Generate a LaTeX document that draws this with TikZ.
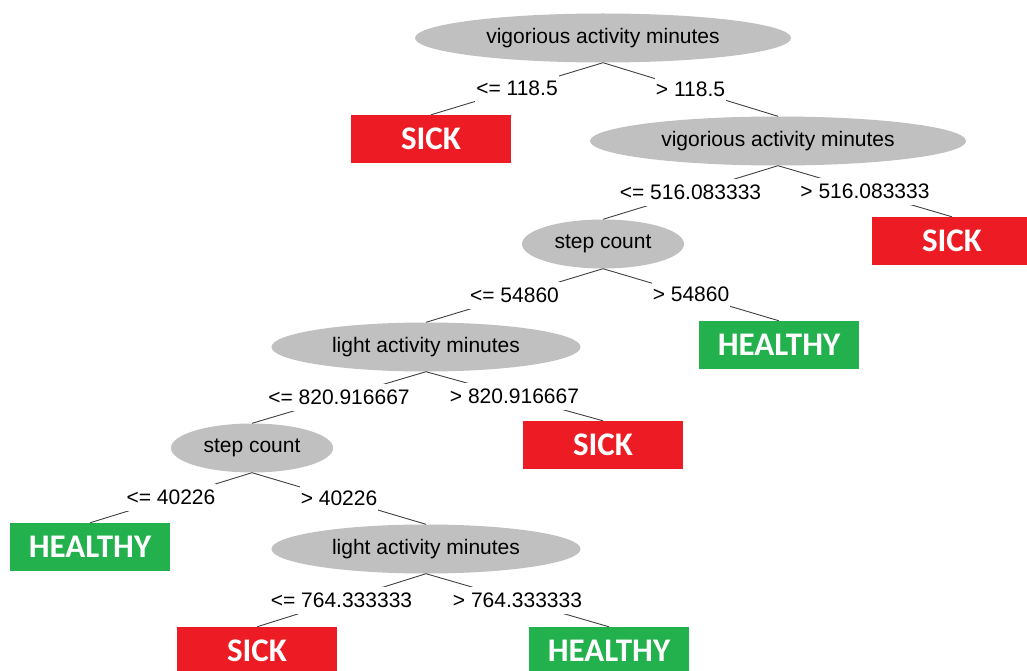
\documentclass[tikz,border=0pt]{standalone}
\usepackage{fontspec}
\setmainfont{Liberation Sans}
\newfontfamily\leaffont{Carlito}
\usetikzlibrary{shapes.geometric}
\definecolor{splitgray}{RGB}{192,192,192}
\definecolor{sickred}{RGB}{237,28,36}
\definecolor{healthygreen}{RGB}{34,177,76}

\begin{document}
\begin{tikzpicture}[x=1pt,y=-1pt,
        split/.style = {ellipse,
            fill=splitgray,
            inner sep=0pt,
            minimum height=49pt,
            font=\fontsize{21}{23}\selectfont
        },
        leaf/.style = {rectangle,
            minimum width=160pt,
            minimum height=48pt,
            inner sep=0pt,
            text=white,
            font=\leaffont\bfseries\fontsize{33}{35}\selectfont
        },
        sick/.style = {leaf, fill=sickred},
        healthy/.style = {leaf, fill=healthygreen},
        cond/.style = {fill=white, inner xsep=1pt, inner ysep=6pt,
            font=\fontsize{21}{23}\selectfont},
        branch/.style = {draw=black!75, line width=0.9pt}]

        \useasboundingbox (0,0) rectangle (1027,671);

        % Splits
        \node[split,minimum width=376pt] (vig1) at (603,38) {vigorious activity minutes};
        \node[split,minimum width=376pt] (vig2) at (778,141) {vigorious activity minutes};
        \node[split,minimum width=162pt] (step1) at (603,244) {step count};
        \node[split,minimum width=309pt] (light1) at (426,347) {light activity minutes};
        \node[split,minimum width=162pt] (step2) at (252,448) {step count};
        \node[split,minimum width=309pt] (light2) at (426,549) {light activity minutes};

        % Leaves
        \node[sick] (sick1) at (431,139) {SICK};
        \node[sick] (sick2) at (952,241) {SICK};
        \node[healthy] (healthy1) at (779,345) {HEALTHY};
        \node[sick] (sick3) at (603,445) {SICK};
        \node[healthy] (healthy2) at (90,547) {HEALTHY};
        \node[sick] (sick4) at (257,651) {SICK};
        \node[healthy] (healthy3) at (609,651) {HEALTHY};

        % Branches
        \draw[branch] (vig1.south) -- node[cond] {<= 118.5} (sick1.north);
        \draw[branch] (vig1.south) -- node[cond] {> 118.5} (vig2.north);
        \draw[branch] (vig2.south) -- node[cond] {<= 516.083333} (step1.north);
        \draw[branch] (vig2.south) -- node[cond] {> 516.083333} (sick2.north);
        \draw[branch] (step1.south) -- node[cond] {<= 54860} (light1.north);
        \draw[branch] (step1.south) -- node[cond] {> 54860} (healthy1.north);
        \draw[branch] (light1.south) -- node[cond] {<= 820.916667} (step2.north);
        \draw[branch] (light1.south) -- node[cond] {> 820.916667} (sick3.north);
        \draw[branch] (step2.south) -- node[cond] {<= 40226} (healthy2.north);
        \draw[branch] (step2.south) -- node[cond] {> 40226} (light2.north);
        \draw[branch] (light2.south) -- node[cond] {<= 764.333333} (sick4.north);
        \draw[branch] (light2.south) -- node[cond] {> 764.333333} (healthy3.north);

    \end{tikzpicture}
\end{document}
